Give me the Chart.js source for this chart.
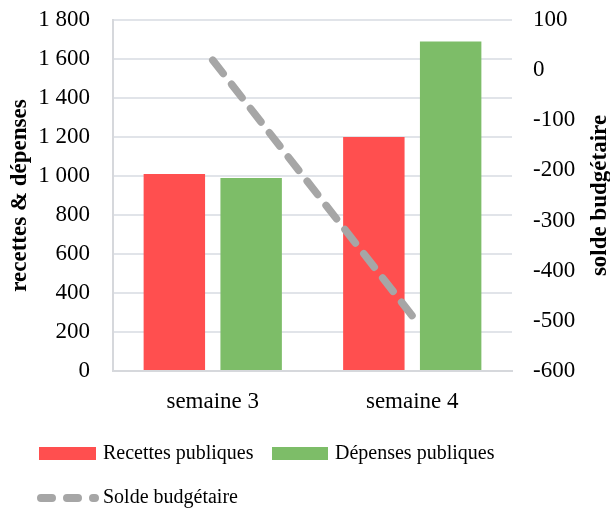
<!DOCTYPE html>
<html>
<head>
<meta charset="utf-8">
<script src="https://cdn.jsdelivr.net/npm/chart.js@4/dist/chart.umd.min.js"></script>
<style>
  html, body { margin: 0; padding: 0; background: #ffffff; }
  #wrap { width: 610px; height: 509px; }
</style>
</head>
<body>
<div id="wrap"><canvas id="c" width="610" height="509"></canvas></div>
<script>
// Weekly public finances: receipts, spending and the resulting balance
const categories = ['semaine 3', 'semaine 4'];
const recettes = [1010, 1200];
const depenses = [990, 1690];
const solde = [20, -490];

const seriesNames = ['Recettes publiques', 'Dépenses publiques', 'Solde budgétaire'];
const leftTitle = 'recettes & dépenses';
const rightTitle = 'solde budgétaire';

const leftTicks = [0, 200, 400, 600, 800, 1000, 1200, 1400, 1600, 1800];
const rightTicks = [-600, -500, -400, -300, -200, -100, 0, 100];

const RED = '#ff4f4f';
const GREEN = '#7dbd68';
const GREY = '#a6a6a6';
const FONT = '"Liberation Serif", "Times New Roman", serif';
const AXIS_SIZE = 23;
const LEGEND_SIZE = 20;

// thousands separated by a space, e.g. 1 800
function fmt(v) {
  return String(v).replace(/\B(?=(\d{3})+(?!\d))/g, ' ');
}

// fixed width for a vertical axis; its labels may overhang the plot edges
function fitVertical(width) {
  return function (scale) {
    scale.width = width;
    scale.paddingTop = 0;
    scale.paddingBottom = 0;
  };
}

// Axis titles (both read bottom-to-top) and the legend below the plot
const decorations = {
  id: 'decorations',
  afterDraw(chart) {
    const ctx = chart.ctx;
    const area = chart.chartArea;
    const midY = (area.top + area.bottom) / 2;
    ctx.save();
    ctx.fillStyle = '#000';
    ctx.font = 'bold ' + AXIS_SIZE + 'px ' + FONT;
    ctx.textAlign = 'center';
    ctx.textBaseline = 'middle';
    [[20, leftTitle], [600, rightTitle]].forEach(([x, t]) => {
      ctx.save();
      ctx.translate(x, midY);
      ctx.rotate(-Math.PI / 2);
      ctx.fillText(t, 0, 0);
      ctx.restore();
    });

    ctx.font = LEGEND_SIZE + 'px ' + FONT;
    ctx.textAlign = 'left';
    ctx.textBaseline = 'middle';
    const ds = chart.data.datasets;
    // row 1: bar series
    ctx.fillStyle = ds[0].backgroundColor;
    ctx.fillRect(39, 447, 57, 13);
    ctx.fillStyle = '#000';
    ctx.fillText(ds[0].label, 103, 453.5);
    ctx.fillStyle = ds[1].backgroundColor;
    ctx.fillRect(272, 447, 56, 13);
    ctx.fillStyle = '#000';
    ctx.fillText(ds[1].label, 335, 453.5);
    // row 2: dashed balance line
    ctx.save();
    ctx.strokeStyle = ds[2].borderColor;
    ctx.lineWidth = 8;
    ctx.lineCap = 'round';
    ctx.setLineDash([11, 15]);
    ctx.beginPath();
    ctx.moveTo(41, 498);
    ctx.lineTo(95, 498);
    ctx.stroke();
    ctx.restore();
    ctx.fillStyle = '#000';
    ctx.fillText(ds[2].label, 103, 498);
    ctx.restore();
  }
};

new Chart(document.getElementById('c'), {
  data: {
    labels: categories,
    datasets: [
      {
        type: 'bar', label: seriesNames[0], data: recettes,
        backgroundColor: RED, yAxisID: 'yL', order: 2,
        categoryPercentage: 0.77, barPercentage: 0.8
      },
      {
        type: 'bar', label: seriesNames[1], data: depenses,
        backgroundColor: GREEN, yAxisID: 'yL', order: 2,
        categoryPercentage: 0.77, barPercentage: 0.8
      },
      {
        type: 'line', label: seriesNames[2], data: solde,
        borderColor: GREY, backgroundColor: GREY, borderWidth: 7.5,
        borderDash: [17, 13.7], borderCapStyle: 'round',
        pointRadius: 0, pointHoverRadius: 0, tension: 0, fill: false,
        yAxisID: 'yR', order: 1
      }
    ]
  },
  options: {
    responsive: false,
    animation: false,
    devicePixelRatio: 1,
    layout: { padding: { top: 20, left: 0, right: 0, bottom: 0 } },
    plugins: {
      legend: { display: false },
      tooltip: { enabled: false },
      title: { display: false }
    },
    scales: {
      x: {
        grid: { display: false, drawTicks: false },
        border: { display: true, color: '#d6d8dc', width: 2 },
        ticks: { color: '#000', font: { family: FONT, size: AXIS_SIZE }, padding: 17 },
        afterFit(scale) { scale.height = 138; }
      },
      yL: {
        position: 'left',
        min: 0, max: 1800,
        afterBuildTicks(scale) { scale.ticks = leftTicks.map(v => ({ value: v })); },
        grid: { color: '#e1e4e9', lineWidth: 2, drawTicks: false },
        border: { display: true, color: '#d6d8dc', width: 2 },
        ticks: {
          color: '#000', font: { family: FONT, size: AXIS_SIZE }, padding: 23,
          callback: v => fmt(v)
        },
        afterFit: fitVertical(113)
      },
      yR: {
        position: 'right',
        min: -600, max: 100,
        afterBuildTicks(scale) { scale.ticks = rightTicks.map(v => ({ value: v })); },
        grid: { display: false, drawOnChartArea: false, drawTicks: false },
        border: { display: false },
        ticks: {
          color: '#000', font: { family: FONT, size: AXIS_SIZE }, padding: 21,
          callback: v => String(v)
        },
        afterFit: fitVertical(98)
      }
    }
  },
  plugins: [decorations]
});
</script>
</body>
</html>
